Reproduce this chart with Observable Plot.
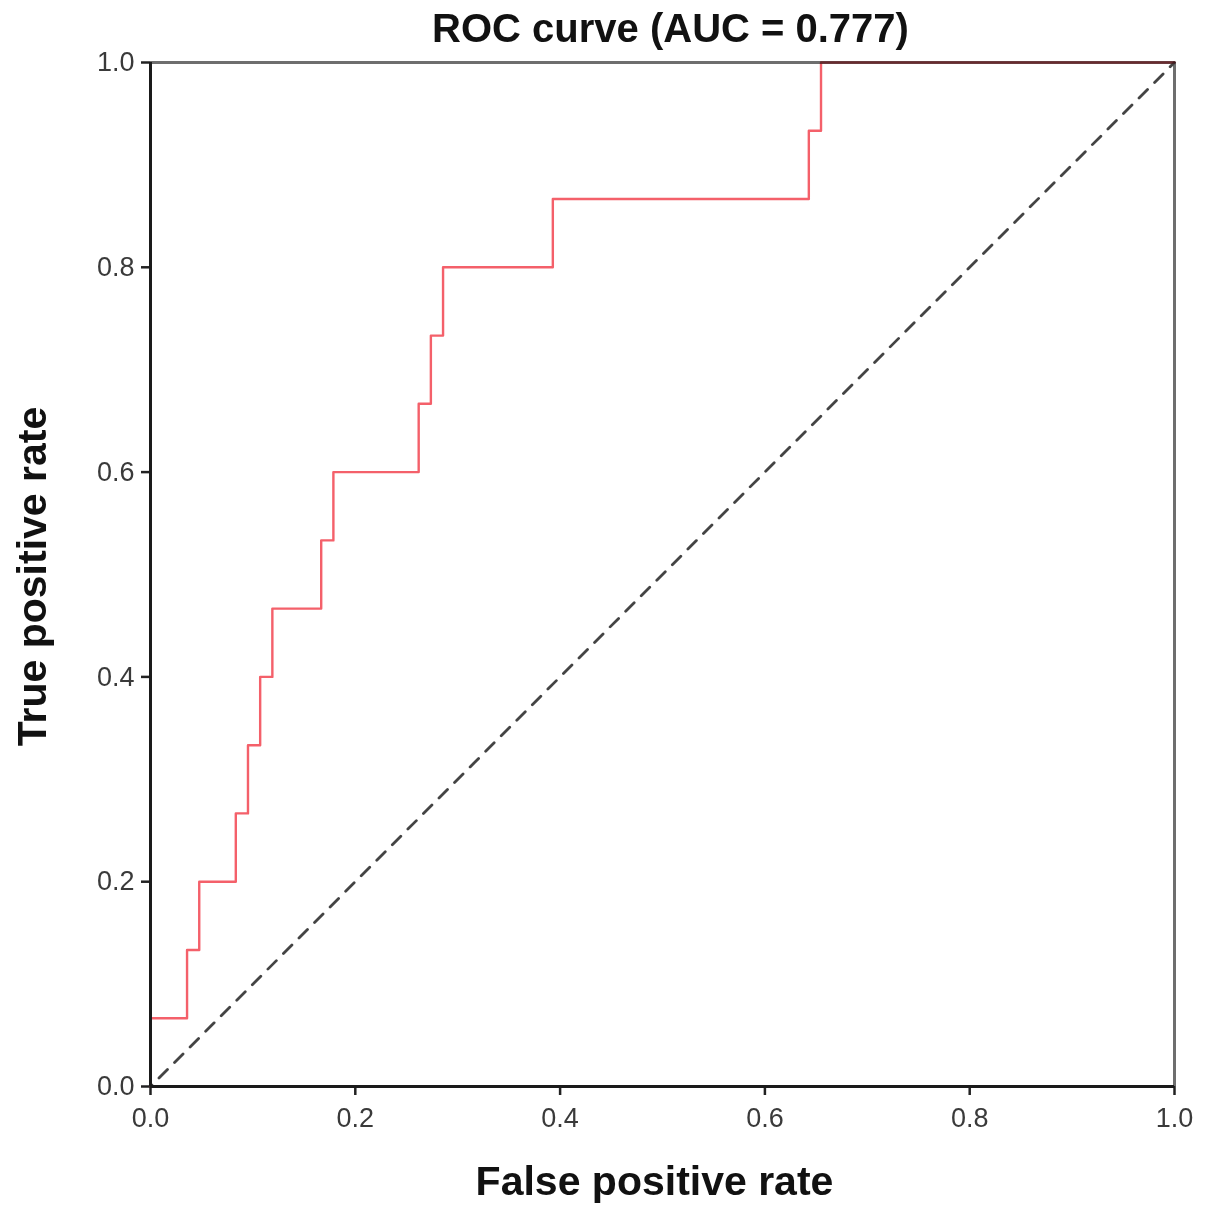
<!DOCTYPE html>
<html>
<head>
<meta charset="utf-8">
<script src="https://cdn.jsdelivr.net/npm/d3@7"></script>
<script src="https://cdn.jsdelivr.net/npm/@observablehq/plot@0.6"></script>
<style>
  html, body { margin: 0; padding: 0; background: #fff; }
  #chart svg { display: block; }
</style>
</head>
<body>
<div id="chart"></div>
<script>
const titleText = "ROC curve (AUC = 0.777)";
const xLabel = "False positive rate";
const yLabel = "True positive rate";
const tickValues = [0, 0.2, 0.4, 0.6, 0.8, 1.0];

// ROC step vertices (FPR, TPR)
const fpr = [0, 0, 0.0357, 0.0476, 0.0833, 0.0952, 0.1071, 0.1190, 0.1667, 0.1786, 0.2619, 0.2738, 0.2857, 0.3929, 0.6429, 0.6548, 1.0];
const tpr = [0, 0.0667, 0.1333, 0.2, 0.2667, 0.3333, 0.4, 0.4667, 0.5333, 0.6, 0.6667, 0.7333, 0.8, 0.8667, 0.9333, 1.0, 1.0];

const diagonal = [[0, 0], [1, 1]];
const roc = fpr.map((f, i) => ({ fpr: f, tpr: tpr[i] }));

const font = "'Liberation Sans', Arial, sans-serif";

const chart = Plot.plot({
  width: 1205,
  height: 1214,
  marginLeft: 150,
  marginRight: 31,
  marginTop: 62,
  marginBottom: 128,
  style: { fontFamily: font, background: "#fff" },
  x: { domain: [0, 1] },
  y: { domain: [0, 1] },
  marks: [
    Plot.axisX({ ticks: tickValues, tickFormat: d3.format(".1f"), tickSize: 9, tickPadding: 12, fontSize: 27, stroke: "#222", strokeWidth: 2.5, color: "#3a3a3a", label: null }),
    Plot.axisY({ ticks: tickValues, tickFormat: d3.format(".1f"), tickSize: 9, tickPadding: 7, fontSize: 27, stroke: "#222", strokeWidth: 2.5, color: "#3a3a3a", label: null }),
    Plot.ruleY([1], { stroke: "#6e6e6e", strokeWidth: 3 }),
    Plot.ruleX([1], { stroke: "#6e6e6e", strokeWidth: 3 }),
    Plot.line(diagonal, { x: d => d[0], y: d => d[1], stroke: "#444", strokeWidth: 2.8, strokeDasharray: "12,10", strokeDashoffset: -12 }),
    Plot.line(roc, { x: "fpr", y: "tpr", curve: "step-after", stroke: "#f4606a", strokeWidth: 2.4, mixBlendMode: "multiply" }),
    Plot.ruleY([0], { stroke: "#1a1a1a", strokeWidth: 3 }),
    Plot.ruleX([0], { stroke: "#1a1a1a", strokeWidth: 3 }),
    Plot.text([titleText], { frameAnchor: "top", dx: 8, dy: -33, fontSize: 40, fontWeight: "bold", fill: "#111", lineAnchor: "middle" }),
    Plot.text([xLabel], { frameAnchor: "bottom", dx: -8, dy: 95, fontSize: 41, fontWeight: "bold", fill: "#111", lineAnchor: "middle" }),
    Plot.text([yLabel], { frameAnchor: "left", dx: -118, dy: 2, rotate: -90, textAnchor: "middle", fontSize: 41, fontWeight: "bold", fill: "#111", lineAnchor: "middle" })
  ]
});
document.getElementById("chart").appendChild(chart);
</script>
</body>
</html>
